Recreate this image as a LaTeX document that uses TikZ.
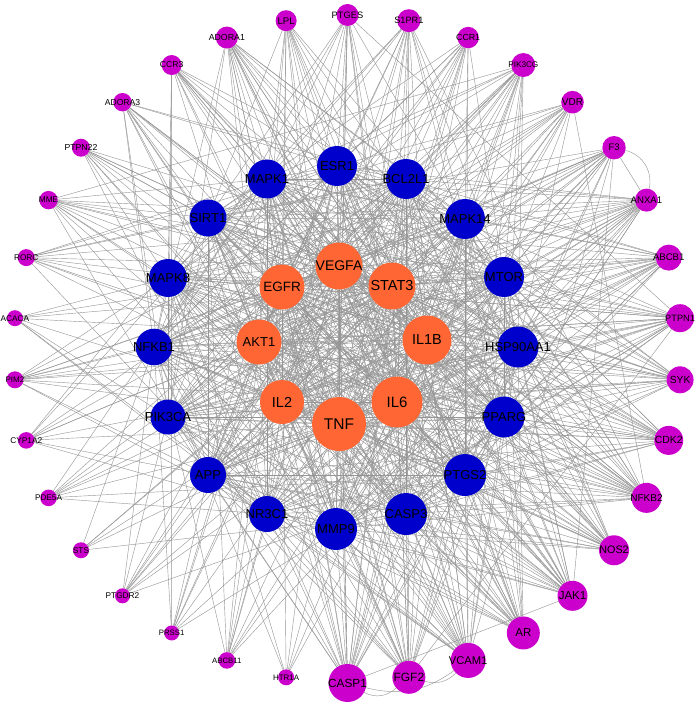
\documentclass[tikz,border=0pt]{standalone}
\usepackage{fontspec}
\setmainfont{Liberation Sans}
\pgfdeclarelayer{bg}
\pgfdeclarelayer{edges}
\pgfsetlayers{bg,edges,main}
\definecolor{hubc}{RGB}{255,102,51}
\definecolor{midc}{RGB}{0,0,204}
\definecolor{rimc}{RGB}{204,0,204}
\definecolor{edgec}{RGB}{150,150,150}
\tikzset{
  gene/.style={circle, inner sep=0pt, outer sep=0pt, text=black},
  hubnode/.style={gene, fill=hubc},
  midnode/.style={gene, fill=midc},
  rimnode/.style={gene, fill=rimc},
  edgeln/.style={draw=edgec, line width=0.42pt},
}
\begin{document}
\begin{tikzpicture}[x=1pt,y=-1pt]
\begin{pgfonlayer}{bg}
\fill[white] (0,0) rectangle (699,703);
\end{pgfonlayer}
\useasboundingbox (0,0) rectangle (699,703);

% hub (orange) nodes
\foreach \nm/\px/\py/\rd/\fs [count=\i] in {
  VEGFA/339/266/23.5/14, STAT3/392/286/23.5/14.5, IL1B/427/340/24.5/14.5,
  IL6/397/402/25.5/15, TNF/339/424/27/15.5, IL2/282/402/22/14.5,
  AKT1/259/342/22.5/13, EGFR/282/287/22.5/13.5}
{\node[hubnode, minimum size=2*\rd,
   label={[font=\fontsize{\fs}{\fs}\selectfont]center:\nm}] (h\i) at (\px,\py) {};}

% middle (blue) nodes
\foreach \nm/\px/\py/\rd [count=\i] in {
  ESR1/337/166/20, BCL2L1/406/179/20, MAPK14/465/219/20, MTOR/504/277/20,
  HSP90AA1/518/347/20.5, PPARG/504/417/20.5, PTGS2/465/475/21, CASP3/406/514/21,
  MMP9/336/529/21, NR3C1/267/514/18, APP/208/475/18, PIK3CA/168/417/17.5,
  NFKB1/154/347/18.3, MAPK8/168/278/19, SIRT1/208/218/18.5, MAPK1/267/179/19.5}
{\node[midnode, minimum size=2*\rd,
   label={[font=\fontsize{13}{13}\selectfont]center:\nm}] (m\i) at (\px,\py) {};}

% rim (magenta) nodes
\foreach \nm/\rd/\fs [count=\i from 0] in {
  PTGES/11/9.3, S1PR1/11.5/9.2, CCR1/10.7/8.8, PIK3CG/12/8.2, VDR/11.3/10,
  F3/11.7/9.5, ANXA1/11.5/9.6, ABCB1/13/9.6, PTPN1/14/9.2, SYK/13.5/10.3,
  CDK2/14.5/10.4, NFKB2/15/10, NOS2/15/10.8, JAK1/15/11.5, AR/16.5/11.5,
  VCAM1/17.5/11.2, FGF2/16.5/12, CASP1/19/11.8, HTR1A/8/7.9, ABCB11/8.3/7.8,
  PRSS1/7.5/7.8, PTGDR2/7.5/8.3, STS/8/8.3, PDE5A/8.3/8.2, CYP1A2/8.3/8.3,
  PIM2/8.5/8, ACACA/8/8.3, RORC/8.5/8.3, MME/9.2/8.3, PTPN22/9/8.7,
  ADORA3/9.2/8.6, CCR3/10/8.6, ADORA1/11/8.8, LPL/10.5/9.6}
{
  \pgfmathsetmacro\ww{(\rd-4)/14}
  \expandafter\xdef\csname rimw\i\endcsname{\ww}
  \node[rimnode, minimum size=2*\rd,
     label={[font=\fontsize{\fs}{\fs}\selectfont]center:\nm}] (o\i)
    at ({347.5+334*cos(90-\i*360/34)},{349-334*sin(90-\i*360/34)}) {};
}

\begin{pgfonlayer}{edges}
\pgfmathsetseed{7}
% hub - hub
\foreach \i in {1,...,8}{\foreach \j in {\i,...,8}{\ifnum\i<\j \draw[edgeln] (h\i) -- (h\j);\fi}}
% hub - mid
\foreach \i in {1,...,8}{\foreach \j in {1,...,16}{%
  \pgfmathsetmacro\rr{rnd}\ifdim\rr pt<0.97pt \draw[edgeln] (h\i) -- (m\j);\fi}}
% mid - mid
\foreach \i in {1,...,16}{\foreach \j in {\i,...,16}{\ifnum\i<\j
  \pgfmathsetmacro\rr{rnd}\ifdim\rr pt<0.85pt \draw[edgeln] (m\i) -- (m\j);\fi\fi}}
% rim - hub / mid
\foreach \k in {0,...,33}{%
  \edef\wk{\csname rimw\k\endcsname}%
  \foreach \j in {1,...,8}{%
    \pgfmathsetmacro\rr{rnd/1.7}\ifdim\rr pt<\wk pt \draw[edgeln] (o\k) -- (h\j);\fi}%
  \foreach \j in {1,...,16}{%
    \pgfmathsetmacro\rr{rnd/1.25}\ifdim\rr pt<\wk pt \draw[edgeln] (o\k) -- (m\j);\fi}%
}
% rim - rim (not between near neighbours)
\foreach \k in {0,...,33}{\foreach \l in {\k,...,33}{\ifnum\k<\l
  \pgfmathtruncatemacro\dd{min(\l-\k,34-\l+\k)}%
  \pgfmathsetmacro\pp{0.18*\csname rimw\k\endcsname*\csname rimw\l\endcsname}%
  \pgfmathsetmacro\rr{rnd}%
  \ifnum\dd>3 \ifdim\rr pt<\pp pt \draw[edgeln] (o\k) -- (o\l);\fi\fi\fi}}
% curved links between neighbours
\draw[edgeln] (o5) -- (o6);
\draw[edgeln] (o5) to[bend left=45] (o6);
\draw[edgeln] (o17) to[bend right=35] (o16);
\draw[edgeln] (o17) to[bend right=25] (o15);
\draw[edgeln] (o16) to[bend right=30] (o15);
\end{pgfonlayer}
\end{tikzpicture}
\end{document}
